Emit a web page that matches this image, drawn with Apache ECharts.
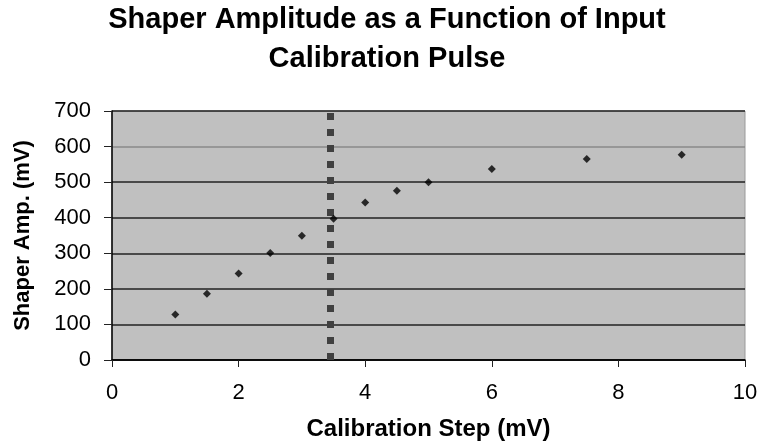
<!DOCTYPE html>
<html>
<head>
<meta charset="utf-8">
<script src="https://cdn.jsdelivr.net/npm/echarts@6/dist/echarts.min.js"></script>
<style>html,body{margin:0;padding:0;background:#fff}#c{width:762px;height:446px}</style>
</head>
<body>
<div id="c"></div>
<script>
var titleText = 'Shaper Amplitude as a Function of Input\nCalibration Pulse';
var xName = 'Calibration Step (mV)';
var yName = 'Shaper Amp. (mV)';
var calibStep = [1.0, 1.5, 2.0, 2.5, 3.0, 3.5, 4.0, 4.5, 5.0, 6.0, 7.5, 9.0];
var shaperAmp = [128, 186, 243, 301, 349, 397, 443, 476, 500, 537, 565, 577];
var thresholdX = [3.45];
var xMin = 0, xMax = 10, xStep = 2;
var yMin = 0, yMax = 700, yStep = 100;

var pts = calibStep.map(function (x, i) { return [x, shaperAmp[i]]; });
var font = 'Liberation Sans, Arial, sans-serif';
var chart = echarts.init(document.getElementById('c'));
chart.setOption({
  animation: false,
  backgroundColor: '#ffffff',
  title: {
    text: titleText,
    left: 387,
    top: 0,
    padding: 0,
    textAlign: 'center',
    textStyle: { fontFamily: font, fontSize: 29, fontWeight: 'bold', color: '#000', lineHeight: 39 }
  },
  grid: {
    left: 112, right: 17, top: 111, bottom: 85,
    show: true, backgroundColor: '#c0c0c0', borderColor: '#9a9a9a', borderWidth: 1
  },
  xAxis: {
    type: 'value', min: xMin, max: xMax, interval: xStep,
    name: xName, nameLocation: 'middle', nameGap: 57,
    nameTextStyle: { fontFamily: font, fontSize: 24, fontWeight: 'bold', color: '#000' },
    axisLine: { show: true, onZero: false, lineStyle: { color: '#000', width: 1.5 } },
    axisTick: { show: true, inside: false, length: 7, lineStyle: { color: '#222' } },
    axisLabel: { fontFamily: font, fontSize: 22, color: '#000', margin: 22 },
    splitLine: { show: false }
  },
  yAxis: {
    type: 'value', min: yMin, max: yMax, interval: yStep,
    name: yName, nameLocation: 'middle', nameGap: 78,
    nameTextStyle: { fontFamily: font, fontSize: 22, fontWeight: 'bold', color: '#000' },
    axisLine: { show: true, lineStyle: { color: '#000', width: 1.5 } },
    axisTick: { show: true, inside: false, length: 8, lineStyle: { color: '#222' } },
    axisLabel: { fontFamily: font, fontSize: 22, color: '#000', margin: 21 },
    splitLine: { show: true, lineStyle: { color: ['#000', '#222', '#222', '#222', '#222', '#222', '#8a8a8a', '#222'], width: 1.5 } }
  },
  series: [{
    type: 'scatter',
    data: pts,
    symbol: 'diamond',
    symbolSize: 8,
    itemStyle: { color: '#000' },
    z: 5,
    markLine: {
      silent: true,
      symbol: ['none', 'none'],
      label: { show: false },
      lineStyle: { type: [7, 9], width: 7, color: '#404040' },
      data: thresholdX.map(function (v) { return { xAxis: v }; })
    }
  }]
});
</script>
</body>
</html>
